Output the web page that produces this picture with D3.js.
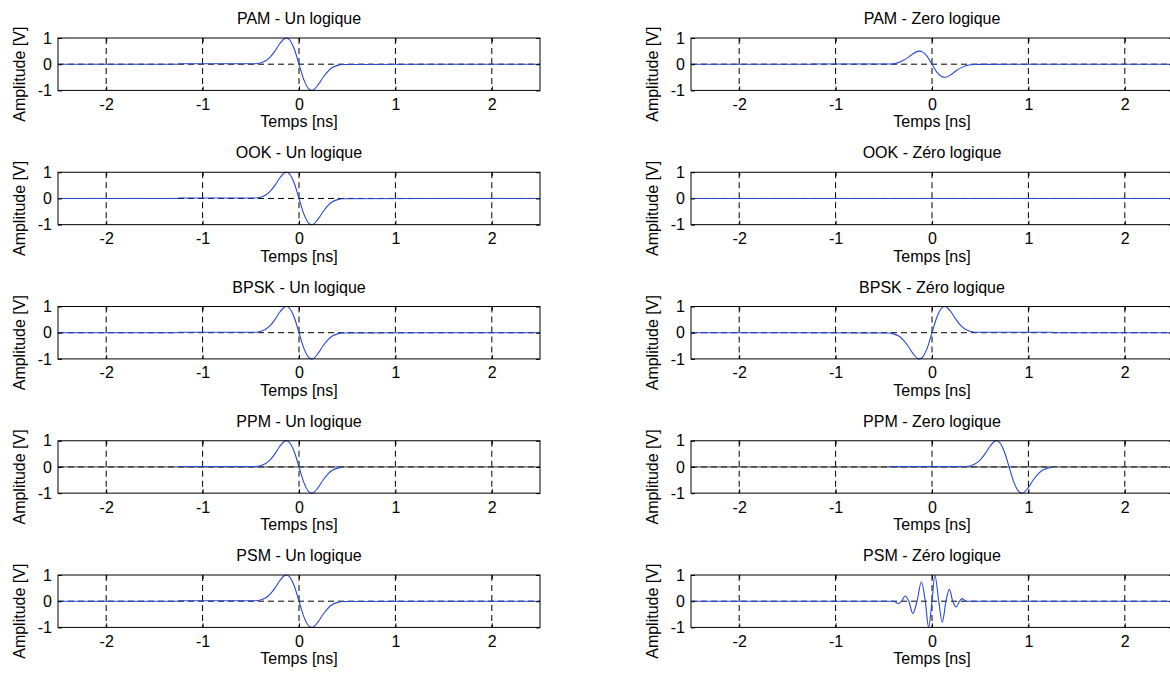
<!DOCTYPE html>
<html>
<head>
<meta charset="utf-8">
<script src="https://cdn.jsdelivr.net/npm/d3@7"></script>
<style>
  html, body { margin: 0; padding: 0; background: #fff; }
  svg { display: block; font-family: "Liberation Sans", Arial, sans-serif; }
</style>
</head>
<body>
<svg id="chart" width="1170" height="674"></svg>
<script>
// ---------- data ----------
const panelTitles = [
  "PAM - Un logique", "PAM - Zero logique",
  "OOK - Un logique", "OOK - Zéro logique",
  "BPSK - Un logique", "BPSK - Zéro logique",
  "PPM - Un logique", "PPM - Zero logique",
  "PSM - Un logique", "PSM - Zéro logique"
];
const xTickValues = [-2, -1, 0, 1, 2];
const yTickValues = [-1, 0, 1];
const xAxisLabel = "Temps [ns]";
const yAxisLabel = "Amplitude [V]";
const timeDomain = [-2.5, 2.5];
const ampDomain = [-1, 1];

// monocycle pulse, "Un logique" (time in ns)
const pulseTime = [-2.5, -1.26, -1.25, -0.45, -0.40, -0.35, -0.30, -0.25, -0.20, -0.15, -0.13, -0.10, -0.05, 0.00,
                   0.05, 0.10, 0.13, 0.15, 0.20, 0.25, 0.30, 0.35, 0.40, 0.45, 2.5];
const pulseOneAmp = [0, 0, 0.02, 0.02, 0.045, 0.12, 0.27, 0.50, 0.78, 0.98, 1.00, 0.94, 0.59, 0.00,
                     -0.59, -0.94, -1.00, -0.98, -0.78, -0.50, -0.27, -0.12, -0.045, -0.01, 0];
// PAM zero: half amplitude pulse
const pamZeroAmp = [0, 0, 0.01, 0.01, 0.02, 0.06, 0.14, 0.25, 0.39, 0.49, 0.50, 0.47, 0.30, 0.00,
                    -0.30, -0.47, -0.50, -0.49, -0.39, -0.25, -0.14, -0.06, -0.02, -0.005, 0];
// OOK zero: nothing sent
const ookZeroTime = [-2.5, 2.5];
const ookZeroAmp = [0, 0];
// BPSK zero: inverted pulse
const bpskZeroTime = [-2.5, -0.45, -0.40, -0.35, -0.30, -0.25, -0.20, -0.15, -0.13, -0.10, -0.05, 0.00,
                      0.05, 0.10, 0.13, 0.15, 0.20, 0.25, 0.30, 0.35, 0.40, 0.45, 1.25, 1.26, 2.5];
const bpskZeroAmp = [0, -0.01, -0.045, -0.12, -0.27, -0.50, -0.78, -0.98, -1.00, -0.94, -0.59, 0.00,
                     0.59, 0.94, 1.00, 0.98, 0.78, 0.50, 0.27, 0.12, 0.045, 0.02, 0.02, 0, 0];
// PPM: pulse inside its time slot only
const ppmOneTime = [-1.25, -0.45, -0.40, -0.35, -0.30, -0.25, -0.20, -0.15, -0.13, -0.10, -0.05, 0.00,
                    0.05, 0.10, 0.13, 0.15, 0.20, 0.25, 0.30, 0.35, 0.40, 0.45];
const ppmOneAmp = [0.02, 0.02, 0.045, 0.12, 0.27, 0.50, 0.78, 0.98, 1.00, 0.94, 0.59, 0.00,
                   -0.59, -0.94, -1.00, -0.98, -0.78, -0.50, -0.27, -0.12, -0.045, -0.01];
const ppmZeroTime = [-0.45, 0.35, 0.40, 0.45, 0.50, 0.55, 0.60, 0.65, 0.67, 0.70, 0.75, 0.80,
                     0.85, 0.90, 0.93, 0.95, 1.00, 1.05, 1.10, 1.15, 1.20, 1.25];
const ppmZeroAmp = [0.02, 0.02, 0.045, 0.12, 0.27, 0.50, 0.78, 0.98, 1.00, 0.94, 0.59, 0.00,
                    -0.59, -0.94, -1.00, -0.98, -0.78, -0.50, -0.27, -0.12, -0.045, -0.01];
// PSM zero: higher order oscillating pulse
const psmZeroTime = [-2.5, -0.40, -0.35, -0.315, -0.28, -0.24, -0.20, -0.155, -0.11, -0.07, -0.035, 0.00,
                     0.03, 0.07, 0.107, 0.145, 0.18, 0.215, 0.25, 0.285, 0.315, 0.35, 0.38, 2.5];
const psmZeroAmp = [0, 0, -0.09, 0, 0.20, 0, -0.47, 0, 0.74, 0, -1.00, 0,
                    1.00, 0, -0.80, 0, 0.45, 0, -0.22, 0, 0.10, 0, 0, 0];

const panelTimes = [pulseTime, pulseTime, pulseTime, ookZeroTime, pulseTime, bpskZeroTime,
                    ppmOneTime, ppmZeroTime, pulseTime, psmZeroTime];
const panelAmps = [pulseOneAmp, pamZeroAmp, pulseOneAmp, ookZeroAmp, pulseOneAmp, bpskZeroAmp,
                   ppmOneAmp, ppmZeroAmp, pulseOneAmp, psmZeroAmp];
const panelBaseline = [false, false, false, false, false, false, true, true, false, false];

// ---------- layout ----------
const colLeft = [58, 691];
const plotW = 482;
const firstTop = 38;
const rowStep = 134.25;
const plotH = 52.4;
const fontSize = 16;
const lineColor = "#2747d4";

const svg = d3.select("#chart");

panelTitles.forEach((title, i) => {
  const col = i % 2, row = Math.floor(i / 2);
  const left = colLeft[col], top = firstTop + row * rowStep;
  const x = d3.scaleLinear().domain(timeDomain).range([left, left + plotW]);
  const y = d3.scaleLinear().domain(ampDomain).range([top + plotH, top]);
  const g = svg.append("g");

  // grid
  g.selectAll("line.vgrid").data(xTickValues).join("line")
    .attr("x1", d => x(d)).attr("x2", d => x(d))
    .attr("y1", top).attr("y2", top + plotH)
    .attr("stroke", "#000").attr("stroke-width", 1).attr("stroke-dasharray", "6,4");
  g.selectAll("line.hgrid").data(yTickValues.filter(v => v === 0)).join("line")
    .attr("x1", left).attr("x2", left + plotW)
    .attr("y1", d => y(d)).attr("y2", d => y(d))
    .attr("stroke", "#000").attr("stroke-width", 1).attr("stroke-dasharray", "6,4");

  if (panelBaseline[i]) {
    g.append("line")
      .attr("x1", left).attr("x2", left + plotW)
      .attr("y1", y(0)).attr("y2", y(0))
      .attr("stroke", "#333").attr("stroke-width", 1);
  }

  // signal
  const pts = panelTimes[i].map((t, k) => [t, panelAmps[i][k]]);
  const line = d3.line().x(d => x(d[0])).y(d => y(d[1])).curve(d3.curveMonotoneX);
  g.append("path").datum(pts).attr("d", line)
    .attr("fill", "none").attr("stroke", lineColor).attr("stroke-width", 1.1);

  // axes
  const fmt = d => d3.format("d")(d).replace("−", "-");
  const xBottom = d3.axisBottom(x).tickValues(xTickValues).tickSize(-4).tickPadding(8).tickFormat(fmt);
  const xTop = d3.axisTop(x).tickValues(xTickValues).tickSize(-4).tickFormat("");
  const yLeft = d3.axisLeft(y).tickValues(yTickValues).tickSize(-4).tickPadding(6).tickFormat(fmt);
  const yRight = d3.axisRight(y).tickValues(yTickValues).tickSize(-4).tickFormat("");

  const styleAxis = sel => {
    sel.select(".domain").remove();
    sel.selectAll("line").attr("stroke", "#000");
    sel.selectAll("text").attr("fill", "#000").style("font-size", fontSize + "px")
      .style("font-family", "'Liberation Sans', Arial, sans-serif");
  };
  g.append("g").attr("transform", `translate(0,${top + plotH})`).call(xBottom).call(styleAxis);
  g.append("g").attr("transform", `translate(0,${top})`).call(xTop).call(styleAxis);
  g.append("g").attr("transform", `translate(${left},0)`).call(yLeft).call(styleAxis);
  g.append("g").attr("transform", `translate(${left + plotW},0)`).call(yRight).call(styleAxis);

  // box
  g.append("rect").attr("x", left).attr("y", top).attr("width", plotW).attr("height", plotH)
    .attr("fill", "none").attr("stroke", "#000").attr("stroke-width", 1);

  // labels
  g.append("text").attr("x", left + plotW / 2).attr("y", top - 14)
    .attr("text-anchor", "middle").style("font-size", fontSize + "px").text(title);
  g.append("text").attr("x", left + plotW / 2).attr("y", top + plotH + 37)
    .attr("text-anchor", "middle").style("font-size", fontSize + "px").text(xAxisLabel);
  g.append("text")
    .attr("transform", `translate(${left - 33},${top + plotH / 2 + 10}) rotate(-90)`)
    .attr("text-anchor", "middle").style("font-size", fontSize + "px").text(yAxisLabel);
});
</script>
</body>
</html>
